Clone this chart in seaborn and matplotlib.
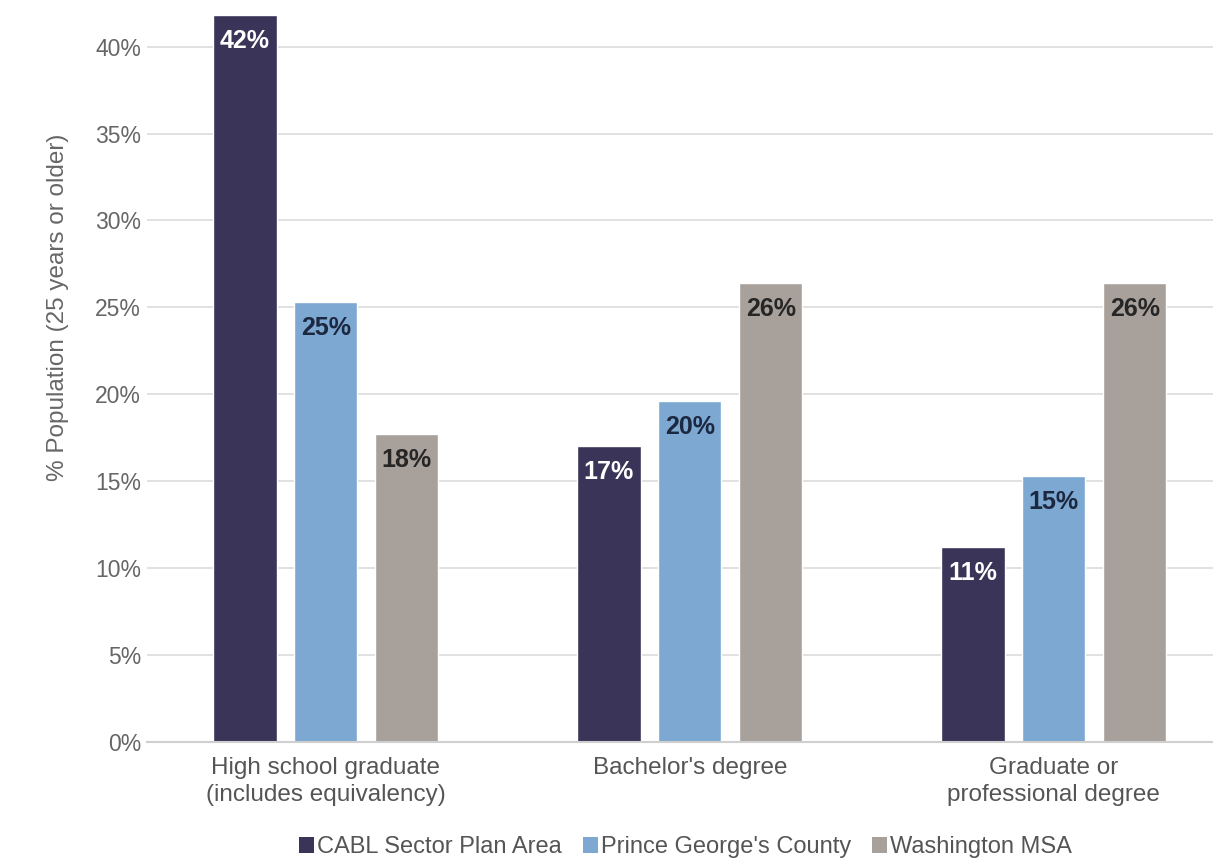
import matplotlib
matplotlib.use("Agg")
import matplotlib.pyplot as plt
import seaborn as sns
import pandas as pd
from matplotlib.patches import Patch

categories = ["High school graduate\n(includes equivalency)", "Bachelor's degree", "Graduate or\nprofessional degree"]
series = ["CABL Sector Plan Area", "Prince George's County", "Washington MSA"]
cabl = [41.8, 17.0, 11.2]
pgc = [25.3, 19.6, 15.3]
msa = [17.7, 26.4, 26.4]
labels_cabl = ["42%", "17%", "11%"]
labels_pgc = ["25%", "20%", "15%"]
labels_msa = ["18%", "26%", "26%"]
yticks = [0, 5, 10, 15, 20, 25, 30, 35, 40]

colors = ["#3a3558", "#7ca8d2", "#a8a09b"]
label_colors = ["white", "#1c2740", "#262626"]

rows = []
for s, vals in zip(series, [cabl, pgc, msa]):
    for c, v in zip(categories, vals):
        rows.append({"cat": c, "series": s, "val": v})
df = pd.DataFrame(rows)

sns.set_theme(style="white")
plt.rcParams["font.family"] = ["Liberation Sans", "DejaVu Sans"]

fig = plt.figure(figsize=(12.13, 8.59), dpi=100)
ax = fig.add_axes([0.121, 0.1362, 0.879, 0.851])

sns.barplot(data=df, x="cat", y="val", hue="series", order=categories, hue_order=series,
            palette=colors, width=0.667, gap=0.22, saturation=1, ax=ax, legend=False, errorbar=None)

for cont, labs, lc in zip(ax.containers, [labels_cabl, labels_pgc, labels_msa], label_colors):
    ax.bar_label(cont, labels=labs, padding=-27, color=lc, fontsize=18, fontweight="bold")

ax.set_ylim(0, 42.05)
ax.set_xlim(-0.492, 2.437)
ax.set_yticks(yticks)
ax.set_yticklabels([f"{t}%" for t in yticks])
ax.yaxis.grid(True, color="#dcdcdc", linewidth=1.2)
ax.set_axisbelow(True)
for sp in ["top", "right", "left"]:
    ax.spines[sp].set_visible(False)
ax.spines["bottom"].set_color("#cfcfcf")
ax.spines["bottom"].set_linewidth(1.5)
ax.tick_params(axis="y", length=0, pad=4, labelsize=16.5, labelcolor="#666666")
ax.tick_params(axis="x", length=0, pad=11, labelsize=17.5, labelcolor="#555555")
for t in ax.get_xticklabels():
    t.set_linespacing(1.3)
ax.set_xlabel("")
ax.set_ylabel("% Population (25 years or older)", fontsize=17.5, color="#666666")
ax.yaxis.set_label_coords(-0.073, 0.595)

handles = [Patch(facecolor=c, edgecolor="none") for c in colors]
fig.legend(handles, series, loc="center", bbox_to_anchor=(0.565, 0.014), ncol=3, frameon=False,
           fontsize=17, handlelength=0.65, handleheight=0.65, handletextpad=0.1, columnspacing=0.9,
           labelcolor="#555555")

fig.savefig("out.png", dpi=100)
